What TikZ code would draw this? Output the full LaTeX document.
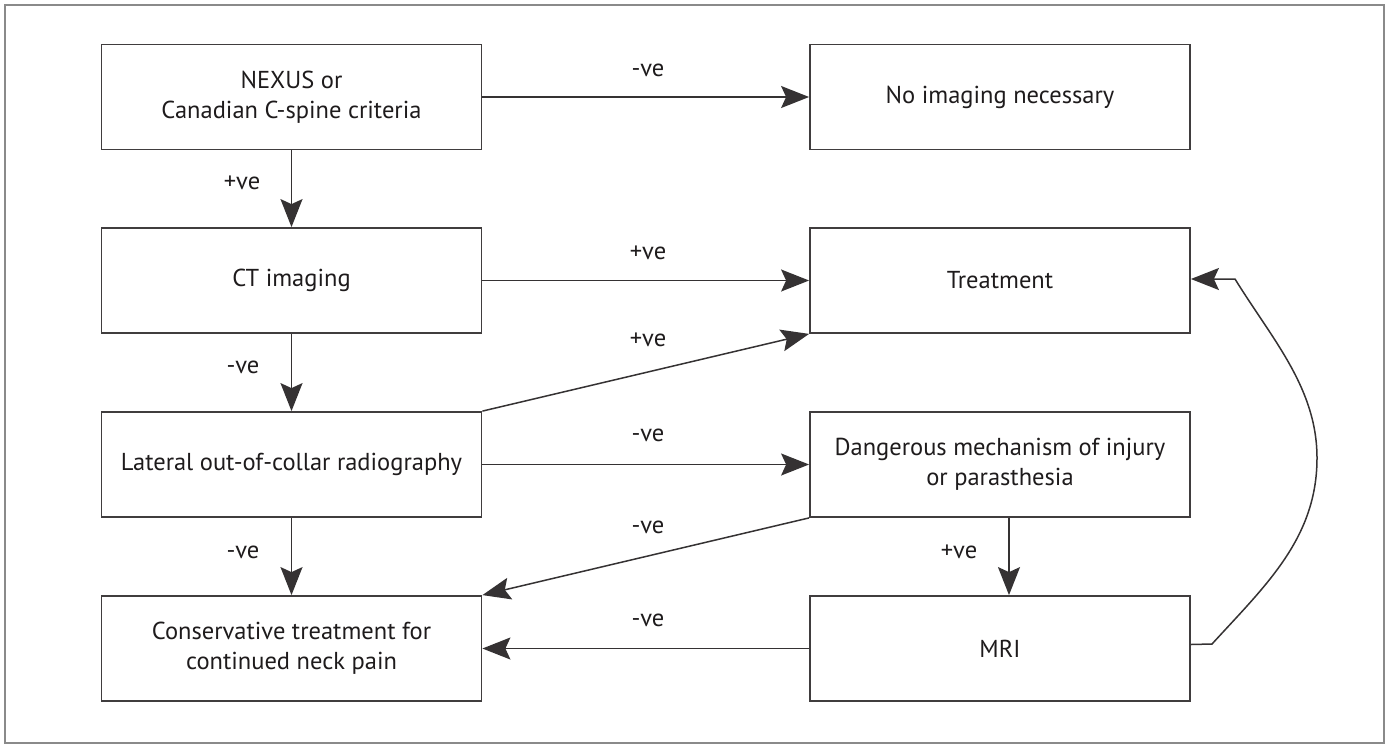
\documentclass[tikz,border=0pt]{standalone}
\usepackage{fontspec}
\setmainfont{PT Sans}
\usetikzlibrary{arrows.meta}
\definecolor{ink}{HTML}{1E1B1C}
\definecolor{framegray}{HTML}{8A8A8A}
\begin{document}
\begin{tikzpicture}[x=1pt,y=-1pt,
  box/.style={draw=ink!85, line width=1.8pt, minimum width=380pt, minimum height=105pt,
    align=center, inner sep=0pt, font=\fontsize{24.5}{30}\selectfont, text=ink},
  conn/.style={draw=ink!90, line width=1.5pt, -{Stealth[length=28pt,width=22pt,inset=5pt]}},
  lbl/.style={font=\fontsize{24.5}{28}\selectfont, text=ink, inner sep=0pt},
]
\useasboundingbox (0,0) rectangle (1387,745);
\draw[framegray, line width=2pt] (5,5) rectangle (1384,743);

\node[box] (nexus) at (291.5,97) {NEXUS or\\Canadian C-spine criteria};
\node[box] (noimg) at (1000,97) {No imaging necessary};
\node[box] (ct) at (291.5,280.5) {CT imaging};
\node[box] (treat) at (1000,280.5) {Treatment};
\node[box] (lat) at (291.5,464.5) {Lateral out-of-collar radiography};
\node[box] (dang) at (1000,464.5) {Dangerous mechanism of injury\\or parasthesia};
\node[box] (cons) at (291.5,648.5) {Conservative treatment for\\continued neck pain};
\node[box] (mri) at (1000,648.5) {MRI};

\coordinate (cstart) at (1212,644);
\coordinate (cmid) at (1317,458);
\coordinate (ctop) at (1235,279);

\draw[conn] (nexus.east) -- (noimg.west);
\draw[conn] (nexus.south) -- (ct.north);
\draw[conn] (ct.east) -- (treat.west);
\draw[conn] (ct.south) -- (lat.north);
\draw[conn] (lat.north east) -- (treat.south west);
\draw[conn] (lat.east) -- (dang.west);
\draw[conn] (dang.south west) -- (cons.north east);
\draw[conn] (lat.south) -- (cons.north);
\draw[conn] ([xshift=9pt]dang.south) -- ([xshift=9pt]mri.north);
\draw[conn] (mri.west) -- (cons.east);
\draw[conn] ([yshift=4pt]mri.east) -- (cstart)
  .. controls (1266,585) and (1317,538) .. (cmid)
  .. controls (1317,388) and (1272,339) .. (ctop)
  -- ([yshift=1.5pt]treat.east);

\node[lbl] (l1) at (648,70) {-ve};
\node[lbl] (l2) at (242,183) {+ve};
\node[lbl] (l3) at (648,253) {+ve};
\node[lbl] (l4) at (243,367) {-ve};
\node[lbl] (l5) at (648,340) {+ve};
\node[lbl] (l6) at (648,435) {-ve};
\node[lbl] (l7) at (648,527) {-ve};
\node[lbl] (l8) at (243,552) {-ve};
\node[lbl] (l9) at (959,552) {+ve};
\node[lbl] (l10) at (648,620) {-ve};
\end{tikzpicture}
\end{document}
